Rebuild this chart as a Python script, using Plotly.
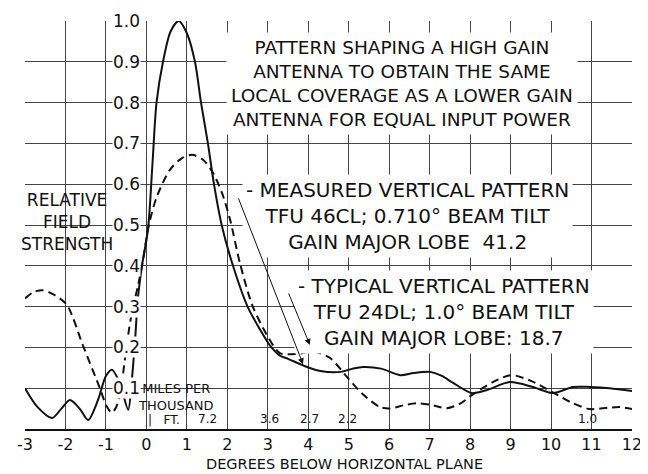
import plotly.graph_objects as go

# Measured vertical pattern TFU 46CL (solid)
solid_x = [-3.0, -2.7, -2.33, -2.1, -1.89, -1.65, -1.44, -1.2, -1.0, -0.85, -0.65, -0.45,
           -0.36, -0.28, -0.21, -0.11, 0.04, 0.15, 0.25, 0.41, 0.6, 0.8, 1.0, 1.2, 1.35,
           1.52, 1.67, 1.86, 2.14, 2.5, 2.8, 3.05, 3.3, 3.5, 3.97, 4.3, 4.8, 5.1, 5.35,
           5.8, 6.27, 6.6, 7.0, 7.3, 7.58, 8.04, 8.4, 8.98, 9.55, 10.05, 10.54, 10.96,
           11.45, 12.0]
solid_y = [0.100, 0.055, 0.027, 0.050, 0.071, 0.050, 0.022, 0.070, 0.130, 0.145, 0.110, 0.047,
           0.120, 0.218, 0.320, 0.400, 0.490, 0.650, 0.800, 0.900, 0.975, 1.000, 0.970, 0.900,
           0.800, 0.700, 0.600, 0.500, 0.400, 0.300, 0.245, 0.205, 0.180, 0.172, 0.152, 0.142,
           0.140, 0.148, 0.152, 0.148, 0.132, 0.137, 0.140, 0.130, 0.113, 0.088, 0.095, 0.115,
           0.103, 0.088, 0.103, 0.103, 0.100, 0.093]

# Typical vertical pattern TFU 24DL (dashed)
dashed_x = [-3.0, -2.8, -2.56, -2.3, -1.97, -1.57, -1.15, -0.98, -0.85, -0.72, -0.6, -0.48,
            -0.36, -0.21, -0.09, 0.06, 0.26, 0.58, 0.88, 1.13, 1.4, 1.65, 1.87, 2.07, 2.31,
            2.63, 3.05, 3.3, 3.72, 4.12, 4.54, 4.96, 5.35, 5.77, 6.0, 6.35, 6.68, 7.0, 7.42,
            7.75, 8.04, 8.56, 9.02, 9.5, 10.04, 10.5, 10.95, 11.4, 11.7, 12.0]
dashed_y = [0.320, 0.335, 0.340, 0.330, 0.305, 0.205, 0.100, 0.055, 0.040, 0.060, 0.120, 0.210,
            0.285, 0.350, 0.410, 0.500, 0.570, 0.635, 0.664, 0.672, 0.660, 0.627, 0.578, 0.512,
            0.407, 0.300, 0.218, 0.186, 0.184, 0.190, 0.174, 0.127, 0.085, 0.054, 0.050, 0.058,
            0.063, 0.060, 0.051, 0.062, 0.083, 0.115, 0.132, 0.118, 0.090, 0.065, 0.049, 0.052,
            0.054, 0.049]

x_ticks = [-3, -2, -1, 0, 1, 2, 3, 4, 5, 6, 7, 8, 9, 10, 11, 12]
x_tick_labels = ["-3", "-2", "-1", "0", "1", "2", "3", "4", "5", "6", "7", "8", "9", "10", "11", "12"]
y_ticks = [0.1, 0.2, 0.3, 0.4, 0.5, 0.6, 0.7, 0.8, 0.9, 1.0]
y_tick_labels = ["0.1", "0.2", "0.3", "0.4", "0.5", "0.6", "0.7", "0.8", "0.9", "1.0"]

miles_labels = ["7.2", "3.6", "2.7", "2.2", "1.0"]
miles_x = [1.5, 3.05, 4.02, 4.98, 10.89]

FONT = "DejaVu Sans"
INK = "#111111"

fig = go.Figure()
fig.add_trace(go.Scatter(x=solid_x, y=solid_y, mode="lines",
                         line=dict(color=INK, width=2, shape="spline", smoothing=0.8),
                         name="Measured", showlegend=False))
fig.add_trace(go.Scatter(x=dashed_x, y=dashed_y, mode="lines",
                         line=dict(color=INK, width=2, dash="8px,5px", shape="spline", smoothing=0.8),
                         name="Typical", showlegend=False))

ann = []
# y tick labels inside the plot
for v, t in zip(y_ticks, y_tick_labels):
    ann.append(dict(x=-0.48, y=v, text=t, showarrow=False, bgcolor="white",
                    font=dict(family=FONT, size=17, color=INK), xanchor="center", yanchor="middle",
                    borderpad=0))

ann.append(dict(x=6.32, y=0.848, showarrow=False, bgcolor="white", borderpad=4,
                text="PATTERN SHAPING A HIGH GAIN<br>ANTENNA TO OBTAIN THE SAME<br>"
                     "LOCAL COVERAGE AS A LOWER GAIN<br>ANTENNA FOR EQUAL INPUT POWER",
                font=dict(family=FONT, size=18.5, color=INK), align="center"))
ann.append(dict(x=6.45, y=0.522, showarrow=False, bgcolor="white", borderpad=3,
                text="- MEASURED VERTICAL PATTERN<br>TFU 46CL; 0.710° BEAM TILT<br>GAIN MAJOR LOBE  41.2",
                font=dict(family=FONT, size=20, color=INK), align="center"))
ann.append(dict(x=7.35, y=0.287, showarrow=False, bgcolor="white", borderpad=3,
                text="- TYPICAL VERTICAL PATTERN<br>TFU 24DL; 1.0° BEAM TILT<br>GAIN MAJOR LOBE: 18.7",
                font=dict(family=FONT, size=20, color=INK), align="center"))
# arrows
ann.append(dict(x=3.87, y=0.159, ax=2.26, ay=0.569, axref="x", ayref="y", xref="x", yref="y",
                text="", showarrow=True, arrowhead=2, arrowsize=1.2, arrowwidth=1, arrowcolor=INK))
ann.append(dict(x=4.04, y=0.206, ax=3.5, ay=0.336, axref="x", ayref="y", xref="x", yref="y",
                text="", showarrow=True, arrowhead=2, arrowsize=1.2, arrowwidth=1, arrowcolor=INK))

# y title
ann.append(dict(x=-1.95, y=0.507, showarrow=False, text="RELATIVE<br>FIELD<br>STRENGTH",
                font=dict(family=FONT, size=17, color=INK), align="center"))
# x title
ann.append(dict(xref="paper", yref="paper", x=0.527, y=-0.087, showarrow=False,
                text="DEGREES BELOW HORIZONTAL PLANE", yanchor="middle",
                font=dict(family=FONT, size=14.5, color=INK)))
# miles per thousand ft
ann.append(dict(x=0.73, y=0.078, showarrow=False, text="MILES PER<br>THOUSAND",
                font=dict(family=FONT, size=13, color=INK), align="center"))
ann.append(dict(x=0.0, y=0.022, showarrow=False, text="|   FT.", xanchor="left",
                font=dict(family=FONT, size=12, color=INK)))
for t, xv in zip(miles_labels, miles_x):
    ann.append(dict(x=xv, y=0.024, showarrow=False, text=t,
                    font=dict(family=FONT, size=12, color=INK)))

# The page body adds an 8px offset; size the figure so the plot area lands at
# x 25..632, y 21..429 in the 648x474 window.
fig.update_layout(
    width=640, height=466,
    margin=dict(l=17, r=16, t=13, b=45, autoexpand=False),
    paper_bgcolor="white", plot_bgcolor="white",
    annotations=ann,
    xaxis=dict(range=[-3, 12], tickvals=x_ticks, ticktext=x_tick_labels,
               showgrid=True, gridcolor="#444444", gridwidth=1, zeroline=False,
               showline=True, linecolor=INK, linewidth=2, ticks="", automargin=False,
               tickfont=dict(family=FONT, size=16, color=INK), mirror=False),
    yaxis=dict(range=[0, 1.0], tickvals=y_ticks, showticklabels=False, automargin=False,
               showgrid=True, gridcolor="#444444", gridwidth=1, zeroline=False,
               showline=False, ticks=""),
)
fig.write_html("out.html")
